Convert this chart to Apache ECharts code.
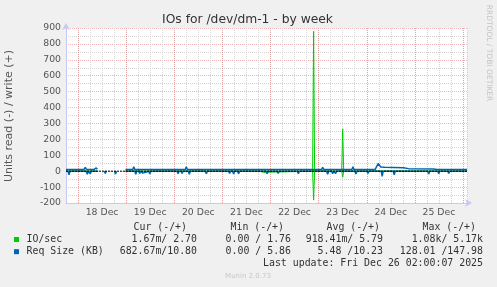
<!DOCTYPE html>
<html><head><meta charset="utf-8">
<script src="https://cdn.jsdelivr.net/npm/echarts@6/dist/echarts.min.js"></script>
<style>html,body{margin:0;padding:0;background:#f0f0f0}#c{width:497px;height:287px}</style>
</head><body><div id="c"></div>
<script>
// ---- data (x = hours since 17 Dec 00:00) ----
const xMin = 18, xMax = 218;
const dayLabelHours = [36, 60, 84, 108, 132, 156, 180, 204];
const dayLabels = ['18 Dec','19 Dec','20 Dec','21 Dec','22 Dec','23 Dec','24 Dec','25 Dec'];
const midnightHours = [24, 48, 72, 96, 120, 144, 168, 192, 216];
const yTicks = [-200, -100, 0, 100, 200, 300, 400, 500, 600, 700, 800, 900];

const ioRead = [[18,0],[33.6,0],[34,null],[47.7,0],[114.5,0],[115,-8],[116.5,-7],[117,0],[141,0],[141.5,-182],[142,0],[155.5,0],[156,-38],[156.5,0],[218,0]];
const ioWrite = [[18,0],[33.6,0],[34,null],[47.7,0],[141,0],[141.5,880],[142,0],[155.5,0],[156,265],[156.5,0],[218,0]];
const reqRead = [[18,0],[19,0],[19.5,-22],[20,0],
 [28.1,0],[28.6,-19],[29.1,0],[29.6,0],[30.1,-16],[30.6,0],
 [33.6,0],[34,null],[37.1,0],[37.6,-14],[38.1,0],[38.5,null],[42.2,0],[42.7,-17],[43.2,0],[43.6,null],
 [47.7,0],[52.3,0],[52.8,-19],[53.3,0],[54.3,0],[54.8,-14],[55.3,0],[55.8,0],[56.3,-12],[56.8,0],[59.3,0],[59.8,-18],[60.3,0],
 [73.4,0],[73.9,-16],[74.4,0],[75.4,0],[75.9,-14],[76.4,0],[79,0],[79.5,-19],[80,0],
 [87.5,0],[88,-16],[88.5,0],
 [99.1,0],[99.6,-14],[100.1,0],[101.1,0],[101.6,-18],[102.1,0],[103.6,0],[104.1,-16],[104.6,0],[107.7,0],[108.2,-12],[108.7,0],
 [117.8,0],[118.3,-16],[118.8,0],[123.3,0],[123.8,-14],[124.3,0],[125.3,0],[125.8,-12],[126.3,0],
 [133.4,0],[133.9,-16],[134.4,0],
 [148,0],[148.5,-19],[149,0],[150.5,0],[151,-16],[151.5,0],[152,0],[152.5,-14],[153,0],
 [162.1,0],[162.6,-18],[163.1,0],[168.1,0],[168.6,-14],[169.1,0],
 [175.2,0],[175.7,-32],[176.2,0],[181.2,0],[181.7,-23],[182.2,0],
 [198.4,0],[198.9,-18],[199.4,0],[203.4,0],[203.9,-16],[204.4,0],[208.4,0],[208.9,-14],[209.4,0],[213.4,0],[213.9,-12],[214.4,0],[218,0]];
const reqWrite = [[18,11],[19,11],[19.5,4],[20,11],
 [27,11],[27.6,24],[28.2,11],
 [32,11],[32.6,23],[33.1,21],[33.6,11],[34,null],
 [47.7,11],[51.3,11],[51.8,27],[52.3,11],
 [77.5,11],[78,27],[78.5,11],
 [98,11],[98.6,23],[99.2,11],[101,11],[101.6,21],[102.1,11],
 [145.5,11],[146,25],[146.5,11],
 [160.6,11],[161.1,27],[161.6,11],
 [172.2,11],[173.7,48],[175,26],[177,24],[186.3,22],[188.8,16],[201.4,14],[203,11],
 [206,11],[206.4,20],[206.9,11],
 [213.5,11],[213.9,21],[214.4,11],[218,11]];

const legendNames = ['IO/sec', 'Req Size (KB)'];
const legendColors = ['#00cc00', '#0066b3'];
const colHeaders = ['Cur (-/+)', 'Min (-/+)', 'Avg (-/+)', 'Max (-/+)'];
const curVals = ['1.67m/ 2.70', '682.67m/10.80'];
const minVals = ['0.00 / 1.76', '0.00 / 5.86'];
const avgVals = ['918.41m/ 5.79', '5.48 /10.23'];
const maxVals = ['1.08k/ 5.17k', '128.01 /147.98'];
const lastUpdate = 'Last update: Fri Dec 26 02:00:07 2025';

// ---- chart ----
const chart = echarts.init(document.getElementById('c'), null, {renderer: 'canvas'});
const mono = '9.9px "DejaVu Sans Mono"';
const colRight = [187, 284, 380, 476];
const valRight = [197, 291, 383, 483];
const graphics = [];
function txt(text, x, y, font, fill, align, rot) {
  graphics.push({type: 'text', x: x, y: y, rotation: rot || 0, silent: true,
    style: {text: text, font: font, fill: fill, textAlign: align || 'left', textVerticalAlign: 'middle'}});
}
txt('IOs for /dev/dm-1 - by week', 247.5, 19.5, '12.3px "DejaVu Sans"', '#333', 'center');
txt('Units read (-) / write (+)', 9, 116, '11px "DejaVu Sans"', '#555', 'center', Math.PI / 2);
txt('RRDTOOL / TOBI OETIKER', 488.5, 53, '7.5px "DejaVu Sans"', '#c4c4c4', 'center', -Math.PI / 2);
colHeaders.forEach((h, i) => txt(h, colRight[i], 227.7, mono, '#333', 'right'));
const rowsY = [239.5, 251.7];
legendNames.forEach((n, r) => {
  graphics.push({type: 'rect', silent: true, shape: {x: 14, y: rowsY[r] - 2.5, width: 5, height: 5}, style: {fill: legendColors[r]}});
  txt(n, 26.5, rowsY[r], mono, '#333', 'left');
  [curVals, minVals, avgVals, maxVals].forEach((arr, i) => txt(arr[r], valRight[i], rowsY[r], mono, '#333', 'right'));
});
txt(lastUpdate, 483, 263.7, mono, '#333', 'right');
txt('Munin 2.0.73', 248, 276, '7px "DejaVu Sans"', '#c8c8c8', 'center');

const redLine = {color: 'rgba(230,110,110,0.5)', type: [1, 1], width: 1};
const grayLine = {color: '#d4d4d4', type: [1, 1], width: 1};
const axisColor = '#c8c8f4';

function line(data, color, w, z, extra) {
  return Object.assign({type: 'line', data: data, showSymbol: false, symbol: 'none', connectNulls: false, z: z,
    lineStyle: {color: color, width: w}, itemStyle: {color: color}, animation: false, silent: true}, extra || {});
}

chart.setOption({
  animation: false,
  backgroundColor: '#f0f0f0',
  grid: {left: 66, right: 30, top: 28, bottom: 84, show: true, backgroundColor: '#ffffff', borderWidth: 0},
  xAxis: [
    {type: 'value', min: xMin, max: xMax, interval: 6, position: 'bottom',
     axisLine: {show: true, onZero: false, lineStyle: {color: axisColor, width: 1}, symbol: ['none', 'arrow'], symbolSize: [6, 7], symbolOffset: [0, 5]},
     axisTick: {show: false}, axisLabel: {show: false}, splitLine: {show: true, lineStyle: grayLine}},
    {type: 'value', min: xMin, max: xMax, position: 'bottom',
     axisLine: {show: false, onZero: false},
     axisTick: {show: false, customValues: midnightHours},
     axisLabel: {show: true, customValues: dayLabelHours, color: '#555', fontSize: 9.3, fontFamily: 'DejaVu Sans', margin: 5,
       formatter: v => dayLabels[dayLabelHours.indexOf(v)]},
     splitLine: {show: true, lineStyle: redLine}}
  ],
  yAxis: {type: 'value', min: yTicks[0], max: yTicks[yTicks.length - 1], interval: 100,
    axisLine: {show: true, lineStyle: {color: axisColor, width: 1}, symbol: ['none', 'arrow'], symbolSize: [6, 7], symbolOffset: [0, 5]},
    axisTick: {show: false},
    axisLabel: {color: '#555', fontSize: 9.3, fontFamily: 'DejaVu Sans', margin: 5},
    splitLine: {show: true, lineStyle: redLine},
    minorTick: {show: false, splitNumber: 2},
    minorSplitLine: {show: true, lineStyle: grayLine}},
  graphic: graphics,
  series: [
    line(ioRead, '#00cc00', 1, 1),
    line(ioWrite, '#00cc00', 1, 1),
    line(reqRead, '#0066b3', 1.5, 3),
    line(reqWrite, '#0066b3', 1.5, 3),
    line([[xMin, 0], [xMax, 0]], '#000', 1, 5, {lineStyle: {color: '#000', type: [2, 1], width: 1}})
  ]
});
</script></body></html>
